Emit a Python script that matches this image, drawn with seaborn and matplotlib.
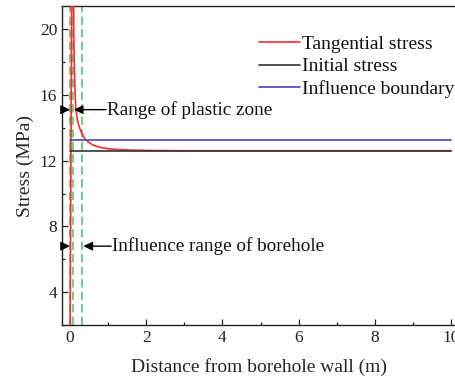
import numpy as np
import pandas as pd
import matplotlib
matplotlib.use("Agg")
import matplotlib.pyplot as plt
import seaborn as sns

# Distance from borehole wall (m) and stress (MPa)
tang_x = [0.0, 0.08, 0.09, 0.10, 0.12, 0.15, 0.20, 0.25, 0.30, 0.40, 0.50, 0.60,
          0.80, 1.00, 1.30, 1.60, 2.00, 3.00, 10.0]
tang_y = [0.0, 40.0, 24.0, 19.5, 17.0, 15.2, 14.4, 14.0, 13.7, 13.3, 13.1, 12.95,
          12.8, 12.72, 12.67, 12.64, 12.62, 12.6, 12.6]
init_x = [0.0, 10.0]
init_y = [12.6, 12.6]
bound_x = [0.0, 10.0]
bound_y = [13.25, 13.25]

# Zone limits (m): borehole wall, plastic zone edge, influence range edge
zone_limits = [0.0, 0.08, 0.32]

series_names = ["Tangential stress", "Initial stress", "Influence boundary"]
series_colors = ["#ff2a2a", "#333333", "#4646b4"]

sns.set_theme(style="ticks")
plt.rcParams["font.family"] = ["Liberation Serif", "DejaVu Serif"]
plt.rcParams["mathtext.fontset"] = "stix"

fig = plt.figure(figsize=(4.56, 3.78), dpi=100)
ax = fig.add_axes([0.136, 0.14, 0.864, 0.844])

df = pd.concat([
    pd.DataFrame({"x": tang_x, "y": tang_y, "series": series_names[0]}),
    pd.DataFrame({"x": init_x, "y": init_y, "series": series_names[1]}),
    pd.DataFrame({"x": bound_x, "y": bound_y, "series": series_names[2]}),
], ignore_index=True)

sns.lineplot(data=df, x="x", y="y", hue="series", hue_order=series_names,
             palette=series_colors, sort=False, estimator=None, linewidth=1.2,
             ax=ax, zorder=3)

for xv in zone_limits:
    ax.axvline(xv, color="#4cc97a", linestyle=(0, (5, 2.5)), linewidth=1.2, zorder=2)

ax.set_xlim(-0.21, 10.13)
ax.set_ylim(2.4, 21.4)
ax.set_xticks([0, 2, 4, 6, 8, 10])
ax.set_xticks([1, 3, 5, 7, 9], minor=True)
ax.set_yticks([4, 8, 12, 16, 20])
ax.set_yticks([2, 6, 10, 14, 18], minor=True)
ax.tick_params(which="both", direction="in", colors="#222222", labelsize=12.5,
               top=False, right=False)
ax.tick_params(which="major", length=4, width=0.9)
ax.tick_params(which="minor", length=2.5, width=0.9)
for s in ["left", "bottom", "top", "right"]:
    ax.spines[s].set_color("#222222")
    ax.spines[s].set_linewidth(1.0)

ax.set_xlabel("Distance from borehole wall (m)", fontsize=14, labelpad=9)
ax.set_ylabel("Stress (MPa)", fontsize=14, labelpad=4)

leg = ax.legend(loc="upper right", bbox_to_anchor=(1.025, 0.945), frameon=False,
                fontsize=14, handlelength=2.1, handletextpad=0.1,
                labelspacing=0.25, borderaxespad=0.2)
for t in leg.get_texts():
    t.set_color("#111111")

arrow_kw = dict(arrowstyle="-|>,head_length=0.45,head_width=0.22", color="black",
                linewidth=1.0, shrinkA=0, shrinkB=0)

# Plastic zone range
y1 = 15.1
ax.annotate("", xy=(zone_limits[0], y1), xytext=(-0.21, y1), arrowprops=arrow_kw)
ax.annotate("", xy=(zone_limits[1] + 0.02, y1), xytext=(0.95, y1), arrowprops=arrow_kw)
ax.text(0.97, y1, "Range of plastic zone", fontsize=13.8, va="center", ha="left",
        color="#111111")

# Influence range of the borehole
y2 = 6.8
ax.annotate("", xy=(zone_limits[0], y2), xytext=(-0.21, y2), arrowprops=arrow_kw)
ax.annotate("", xy=(zone_limits[2] + 0.03, y2), xytext=(1.08, y2), arrowprops=arrow_kw)
ax.text(1.1, y2, "Influence range of borehole", fontsize=13.8, va="center", ha="left",
        color="#111111")

fig.savefig("out.png", dpi=100)
